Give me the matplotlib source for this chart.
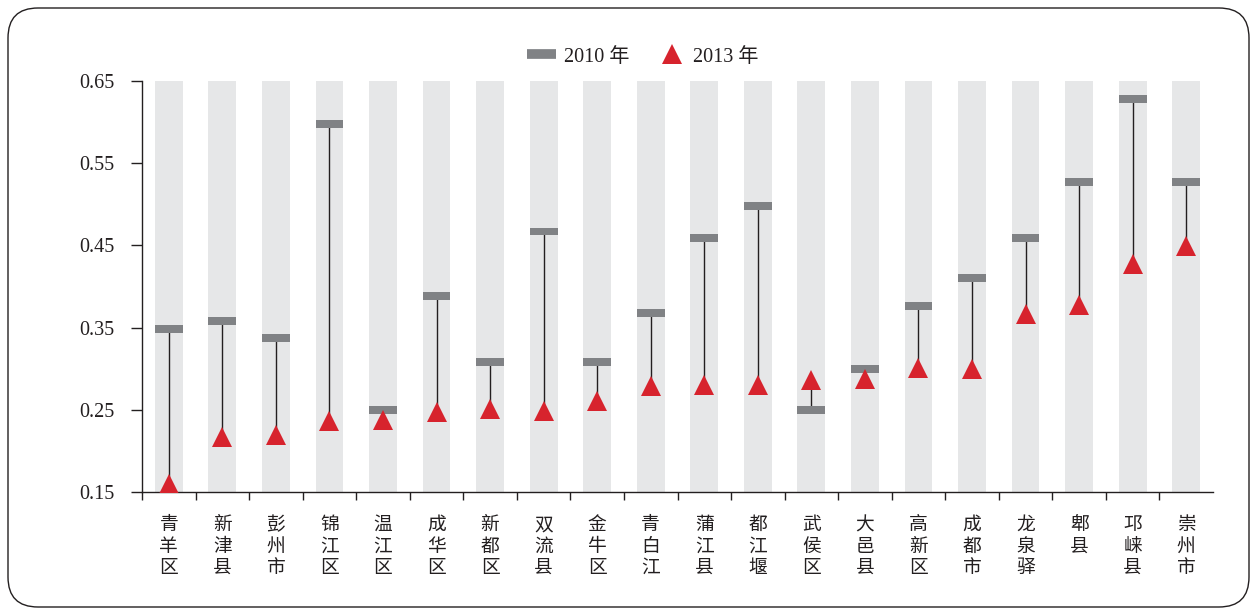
import matplotlib
matplotlib.use("Agg")
import matplotlib.pyplot as plt
from matplotlib.patches import FancyBboxPatch
from matplotlib.lines import Line2D
import numpy as np

districts = ["青羊区", "新津县", "彭州市", "锦江区", "温江区", "成华区", "新都区", "双流县",
             "金牛区", "青白江", "蒲江县", "都江堰", "武侯区", "大邑县", "高新区", "成都市",
             "龙泉驿", "郫县", "邛崃县", "崇州市"]
v2010 = [0.348, 0.358, 0.337, 0.598, 0.250, 0.388, 0.308, 0.467, 0.308, 0.368,
         0.459, 0.498, 0.250, 0.300, 0.376, 0.410, 0.459, 0.527, 0.628, 0.527]
v2013 = [0.160, 0.217, 0.219, 0.236, 0.237, 0.247, 0.251, 0.249, 0.261, 0.279,
         0.280, 0.280, 0.286, 0.288, 0.301, 0.300, 0.367, 0.377, 0.427, 0.449]
yticks = [0.15, 0.25, 0.35, 0.45, 0.55, 0.65]
legend_labels = ["2010 年", "2013 年"]

FONT = ["Liberation Serif", "Noto Sans CJK SC", "DejaVu Sans"]
plt.rcParams["font.family"] = FONT

BAND = "#e6e7e8"
GRAY = "#808285"
RED = "#d7232d"
DARK = "#231f20"

fig = plt.figure(figsize=(12.51, 6.09), dpi=100)
ax = fig.add_axes([142 / 1251, 1 - 492 / 609, (1213 - 142) / 1251, (492 - 81) / 609])

x = np.arange(len(districts))
ymin, ymax = yticks[0], yticks[-1]

# background bands
ax.bar(x, ymax - ymin, bottom=ymin, width=0.52, color=BAND, zorder=1)
# connectors
ax.vlines(x, v2013, v2010, color=DARK, lw=1.0, zorder=2)
# 2010 markers as short thick bars
h = 0.0095
ax.bar(x, h, bottom=np.array(v2010) - h / 2, width=0.52, color=GRAY, zorder=3)
# 2013 triangles
ax.plot(x, v2013, linestyle="none", marker="^", markersize=14, color=RED,
        markeredgewidth=0, zorder=4)

ax.set_xlim(-0.5, len(districts) - 0.5)
ax.set_ylim(ymin, ymax)
ax.set_yticks(yticks)
ax.set_yticklabels([f"{t:.2f}" for t in yticks], fontsize=14.5, family=FONT, color="#231f20")
ax.tick_params(axis="y", length=8, width=1, color=DARK, pad=12)

ax.set_xticks(x)
ax.set_xticklabels(["\n".join(list(d)) for d in districts], fontsize=13.5,
                   family=["Noto Sans CJK SC"], color="#231f20", va="top", linespacing=1.02)
ax.tick_params(axis="x", which="major", length=0, pad=16)
ax.set_xticks(np.arange(-0.5, len(districts) - 1, 1.0), minor=True)
ax.tick_params(axis="x", which="minor", length=6, width=1, color=DARK)

for s in ["top", "right"]:
    ax.spines[s].set_visible(False)
for s in ["left", "bottom"]:
    ax.spines[s].set_color(DARK)
    ax.spines[s].set_linewidth(1.0)

handles = [Line2D([0], [0], color=GRAY, lw=7, solid_capstyle="butt"),
           Line2D([0], [0], linestyle="none", marker="^", markersize=14, color=RED,
                  markeredgewidth=0)]
leg = fig.legend(handles, legend_labels, loc="center", bbox_to_anchor=(643 / 1251, 1 - 57 / 609),
                 ncol=2, frameon=False, prop={"family": FONT, "size": 14.5},
                 handlelength=1.45, columnspacing=1.4, handletextpad=0.35)
for t in leg.get_texts():
    t.set_color("#231f20")

border = FancyBboxPatch((8, 2), 1241, 599, boxstyle="round,pad=0,rounding_size=30",
                        transform=None, fill=False, edgecolor=DARK, lw=1.0)
fig.add_artist(border)

fig.savefig("out.png", dpi=100, facecolor="white")
